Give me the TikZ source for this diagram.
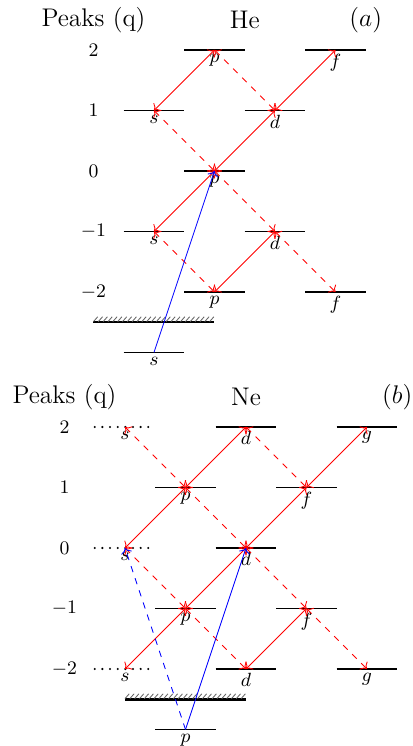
\documentclass[tikz,border=0pt]{standalone}
\usepackage{amsmath,amssymb}
\usepackage{tikz}
\usetikzlibrary{arrows.meta, positioning, calc}

\tikzset{
  statebar/.style={line width=0.6pt},
  openbar/.style={line width=1.1pt, dash pattern=on 0pt off 3.6pt, line cap=round},
  statelbl/.style={below, inner sep=2pt, font=\small},
  qlbl/.style={font=\small},
  titlelbl/.style={font=\large},
  trans/.style={red, <->},
  transd/.style={red, dashed, <->},
  pump/.style={blue, ->},
  wall/.style={very thick},
}

% one energy level: bar, named point, label below
\newcommand{\enlevel}[5][statebar]{%
  \draw[#1] (#3-0.5,#4) -- (#3+0.5,#4);
  \coordinate (#2) at (#3,#4);
  \node[statelbl] (#2l) at (#2) {$#5$};
}

\begin{document}
\begin{tikzpicture}
    \useasboundingbox (0,0) rectangle (6.826,-12.331);

    % ---------- (a) He ----------
    \begin{scope}[shift={(2.545,-2.826)}]
    \node[titlelbl] (aPeaks) at (-1,2.5) {Peaks (q)};
    \node[titlelbl] (aAtom) at (1.5,2.5) {He};
    \node[titlelbl] (aTag) at (3.5,2.5) {$(a)$};
    \foreach \q/\t in {2/2, 1/1, 0/0, -1/-1, -2/-2}
        \node[qlbl] (aq\q) at (-1,\q) {$\t$};

    \enlevel{ap2}{1}{2}{p}
    \enlevel{af2}{3}{2}{f}
    \enlevel{as1}{0}{1}{s}
    \enlevel{ad1}{2}{1}{d}
    \enlevel{ap0}{1}{0}{p}
    \enlevel{asm1}{0}{-1}{s}
    \enlevel{adm1}{2}{-1}{d}
    \enlevel{apm2}{1}{-2}{p}
    \enlevel{afm2}{3}{-2}{f}
    \enlevel{ag}{0}{-3}{s}

    % ionisation threshold
    \draw[wall] (-1,-2.5) -- (1,-2.5);
    \foreach \x in {-1,-0.92,...,0.95}
        \draw[gray!80!black] (\x,-2.49) -- ++(0.07,0.08);

    % transitions
    \draw[trans] (as1) -- (ap2);
    \draw[trans] (ap0) -- (ad1);
    \draw[trans] (ad1) -- (af2);
    \draw[trans] (ap0) -- (asm1);
    \draw[trans] (adm1) -- (apm2);
    \draw[transd] (ap2) -- (ad1);
    \draw[transd] (as1) -- (ap0);
    \draw[transd] (ap0) -- (adm1);
    \draw[transd] (asm1) -- (apm2);
    \draw[transd] (adm1) -- (afm2);
    \draw[pump] (ag) -- (ap0);
    \end{scope}

    % ---------- (b) Ne ----------
    \begin{scope}[shift={(2.066,-9.058)}]
    \node[titlelbl] (bPeaks) at (-1,2.5) {Peaks (q)};
    \node[titlelbl] (bAtom) at (2,2.5) {Ne};
    \node[titlelbl] (bTag) at (4.5,2.5) {$(b)$};
    \foreach \q/\t in {2/2, 1/1, 0/0, -1/-1, -2/-2}
        \node[qlbl] (bq\q) at (-1,\q) {$\t$};

    \enlevel[openbar]{bs2}{0}{2}{s}
    \enlevel{bd2}{2}{2}{d}
    \enlevel{bg2}{4}{2}{g}
    \enlevel{bp1}{1}{1}{p}
    \enlevel{bf1}{3}{1}{f}
    \enlevel[openbar]{bs0}{0}{0}{s}
    \enlevel{bd0}{2}{0}{d}
    \enlevel{bpm1}{1}{-1}{p}
    \enlevel{bfm1}{3}{-1}{f}
    \enlevel[openbar]{bsm2}{0}{-2}{s}
    \enlevel{bdm2}{2}{-2}{d}
    \enlevel{bgm2}{4}{-2}{g}
    \enlevel{bg}{1}{-3}{p}

    % ionisation threshold
    \draw[wall] (0,-2.5) -- (2,-2.5);
    \foreach \x in {0,0.08,...,1.95}
        \draw[gray!80!black] (\x,-2.49) -- ++(0.07,0.08);

    % transitions
    \draw[trans] (bs0) -- (bp1);
    \draw[trans] (bp1) -- (bd2);
    \draw[trans] (bd0) -- (bf1);
    \draw[trans] (bf1) -- (bg2);
    \draw[trans] (bd0) -- (bpm1);
    \draw[trans] (bpm1) -- (bsm2);
    \draw[trans] (bfm1) -- (bdm2);
    \draw[transd] (bs2) -- (bp1);
    \draw[transd] (bp1) -- (bd0);
    \draw[transd] (bd0) -- (bfm1);
    \draw[transd] (bfm1) -- (bgm2);
    \draw[transd] (bd2) -- (bf1);
    \draw[transd] (bs0) -- (bpm1);
    \draw[transd] (bpm1) -- (bdm2);
    \draw[pump] (bg) -- (bd0);
    \draw[pump, dashed] (bg) -- (bs0);
    \end{scope}
\end{tikzpicture}
\end{document}
